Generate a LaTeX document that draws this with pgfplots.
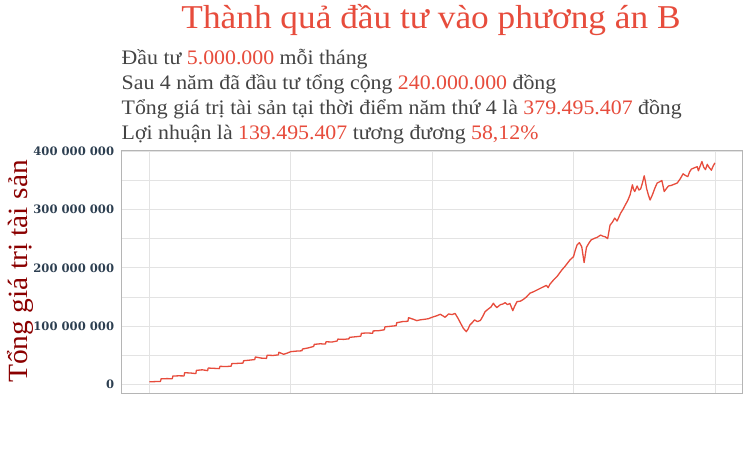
\documentclass[border=0pt]{standalone}
\usepackage{pgfplots}
\pgfplotsset{compat=1.18}
\usepackage{fontspec}
\setmainfont[FakeStretch=1.06]{Liberation Serif}
\newfontfamily\tickfont{DejaVu Serif}

\definecolor{redc}{HTML}{E74C3C}
\definecolor{textc}{HTML}{444444}
\definecolor{labelc}{HTML}{8B0000}
\definecolor{tickc}{HTML}{2C3E50}
\definecolor{gridc}{HTML}{E3E3E3}
\definecolor{borderc}{HTML}{B5B5B5}

\begin{document}
\begin{tikzpicture}[x=1pt,y=1pt]
\path[use as bounding box, fill=white] (0,0) rectangle (750,450);

\node[anchor=base, text=redc, font=\fontsize{33.3}{33.3}\selectfont, inner sep=0pt] at (431,421.7)
  {Thành quả đầu tư vào phương án B};

\begin{scope}[every node/.style={anchor=base west, text=textc, font=\fontsize{20.6}{20.6}\selectfont, inner sep=0pt}]
\node at (121.5,385) {Đầu tư \textcolor{redc}{5.000.000} mỗi tháng};
\node at (121.5,360) {Sau 4 năm đã đầu tư tổng cộng \textcolor{redc}{240.000.000} đồng};
\node at (121.5,335) {Tổng giá trị tài sản tại thời điểm năm thứ 4 là \textcolor{redc}{379.495.407} đồng};
\node at (121.5,310.7) {Lợi nhuận là \textcolor{redc}{139.495.407} tương đương \textcolor{redc}{58,12\%}};
\end{scope}

\node[rotate=90, anchor=base, text=labelc, font=\fontsize{27.8}{27.8}\selectfont, inner sep=0pt]
  at (27.3,178.5) {Tổng giá trị tài sản};

\begin{axis}[
  at={(121pt,57pt)}, anchor=south west,
  scale only axis, width=621pt, height=242.5pt,
  xmin=-2.4, xmax=50.3, ymin=-14.2, ymax=400.7,
  xtick={0,12,24,36,48}, xticklabels={},
  ytick={0,100,200,300,400},
  yticklabels={0,100 000 000,200 000 000,300 000 000,400 000 000},
  minor ytick={50,150,250,350},
  grid=both,
  major grid style={draw=gridc, line width=0.7pt},
  minor grid style={draw=gridc, line width=0.7pt},
  axis line style={draw=borderc, line width=0.8pt},
  tick style={draw=none},
  yticklabel style={font=\tickfont\bfseries\fontsize{11.6}{11.6}\selectfont, text=tickc, inner sep=0pt, xshift=-6.7pt},
  axis background/.style={fill=white},
]
% month, total asset value in million dong
\addplot[color=redc, line width=1.3pt, line join=round] table {
0 5.0
0.5 5.3
0.95 5.6
1.0 10.0
1.5 10.4
1.95 10.2
2.0 14.8
2.5 15.2
2.95 15.0
3.0 20.5
3.5 20.0
3.95 19.0
4.0 24.5
4.5 25.5
4.95 24.0
5.0 28.5
5.5 28.0
5.95 27.5
6.0 31.5
6.5 31.0
6.95 31.8
7.0 36.0
7.5 36.5
7.95 37.0
8.0 41.0
8.5 42.0
8.95 43.0
9.0 47.5
9.5 45.5
9.95 45.0
10.0 50.5
10.5 50.0
10.95 51.0
11.0 55.5
11.4 52.0
11.7 54.0
12.0 56.5
12.5 57.5
12.95 58.0
13.0 61.0
13.5 63.0
13.95 65.5
14.0 69.0
14.5 70.0
14.95 69.5
15.0 73.5
15.5 73.0
15.95 74.8
16.0 78.0
16.5 77.5
16.95 78.5
17.0 81.0
17.5 82.0
17.95 83.0
18.0 88.0
18.5 88.5
18.95 88.0
19.0 92.0
19.5 92.5
19.95 94.0
20.0 99.0
20.5 100.0
20.95 101.0
21.0 106.0
21.5 108.0
21.95 108.5
22.0 114.7
22.4 112.0
22.7 109.6
23.0 111.0
23.4 112.0
23.7 113.0
24.0 115.4
24.4 118.0
24.7 120.5
25.1 115.4
25.4 121.0
25.7 120.0
25.95 122.0
26.2 113.6
26.45 104.0
26.65 96.5
26.9 90.8
27.05 95.0
27.2 102.0
27.4 106.0
27.6 110.8
27.85 108.0
28.1 110.0
28.3 117.0
28.5 125.0
28.8 130.0
29.0 133.0
29.2 139.4
29.35 135.0
29.5 132.0
29.8 137.0
30.0 138.0
30.2 140.4
30.4 137.0
30.6 139.0
30.85 126.7
31.0 134.0
31.2 142.0
31.5 143.0
31.75 146.0
32.0 150.0
32.3 156.5
32.6 159.0
32.9 162.0
33.2 165.0
33.5 168.0
33.7 170.0
33.85 166.0
34.0 172.0
34.3 179.0
34.6 185.0
35.0 196.0
35.3 203.0
35.7 213.5
36.0 219.0
36.15 230.0
36.3 239.0
36.5 243.0
36.7 236.0
36.9 209.0
37.1 235.0
37.3 242.0
37.5 247.8
37.8 250.6
38.0 252.0
38.3 256.0
38.5 254.0
38.7 253.0
38.9 250.0
39.1 273.0
39.3 278.0
39.5 285.0
39.7 280.0
40.0 293.5
40.2 300.0
40.4 307.7
40.6 315.0
40.8 324.8
41.0 342.0
41.1 334.0
41.2 330.5
41.4 340.0
41.55 333.0
41.7 335.0
41.85 345.0
42.0 357.4
42.1 348.0
42.2 336.0
42.35 325.0
42.5 316.0
42.7 325.0
42.9 336.0
43.1 345.0
43.3 347.0
43.5 349.3
43.7 330.5
43.9 336.0
44.06 340.0
44.3 341.0
44.55 343.0
44.8 345.0
45.05 352.0
45.3 360.8
45.5 358.0
45.7 356.0
45.85 364.0
46.0 368.8
46.25 371.0
46.5 373.0
46.6 366.0
46.75 374.0
46.9 381.8
47.05 372.0
47.2 368.0
47.35 377.0
47.5 372.0
47.7 367.0
47.85 374.0
48.0 379.5
};
\end{axis}
\end{tikzpicture}
\end{document}
